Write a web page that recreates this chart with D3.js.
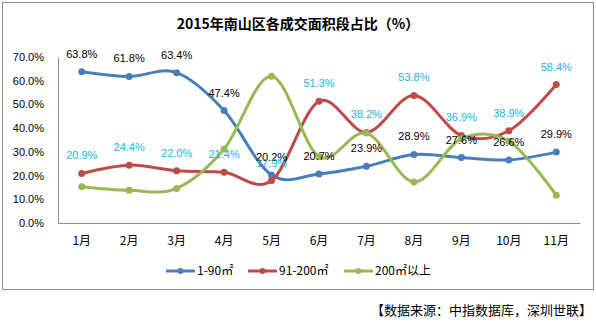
<!DOCTYPE html>
<html>
<head>
<meta charset="utf-8">
<script src="https://cdn.jsdelivr.net/npm/d3@7"></script>
<style>
  body { margin: 0; background: #fff; }
  svg { display: block; }
  .tick-lbl { font-family: "Liberation Sans", Arial, sans-serif; font-size: 11px; fill: #000; }
  .cat-lbl { font-family: "Noto Sans CJK SC", sans-serif; font-size: 12px; fill: #000; }
  .val-lbl { font-family: "Liberation Sans", Arial, sans-serif; font-size: 11px; }
</style>
</head>
<body>
<div id="chart"></div>
<script>
//Datos
const months = ['1月','2月','3月','4月','5月','6月','7月','8月','9月','10月','11月'];
const small = [63.8, 61.8, 63.4, 47.4, 20.2, 20.7, 23.9, 28.9, 27.6, 26.6, 29.9];
const medium = [20.9, 24.4, 22.0, 21.4, 17.9, 51.3, 38.2, 53.8, 36.9, 38.9, 58.4];
const large = [15.3, 13.8, 14.6, 31.2, 61.9, 28.0, 37.9, 17.3, 35.5, 34.5, 11.7];
const yTicks = [0, 10, 20, 30, 40, 50, 60, 70];
const seriesNames = ['1-90㎡', '91-200㎡', '200㎡以上'];

//Colores
const COLOR_BLUE = '#4A7EBB', COLOR_RED = '#BE4B48', COLOR_GREEN = '#98B954', COLOR_LABEL = '#1EB1EC';

const W = 596, H = 324;
let margin = {top: 57, right: 16, bottom: 101, left: 58},
    width = W - margin.left - margin.right,
    height = H - margin.top - margin.bottom;

let svg = d3.select('#chart').append('svg')
    .attr('width', W)
    .attr('height', H);

//Marco
svg.append('rect')
    .attr('x', 2.5).attr('y', 2.5)
    .attr('width', 591).attr('height', 287)
    .attr('fill', 'none').attr('stroke', '#8c8c8c');

svg.append('text')
    .attr('x', 298).attr('y', 29)
    .attr('text-anchor', 'middle')
    .style('font-family', '"Noto Sans CJK SC", sans-serif')
    .style('font-size', '14px').style('font-weight', 'bold')
    .text('2015年南山区各成交面积段占比（%）');

let g = svg.append('g').attr('transform', 'translate(' + margin.left + ',' + margin.top + ')');

let x = d3.scaleBand().domain(months).range([0, width]);
let y = d3.scaleLinear().domain([0, 70]).range([height, 0]);
const cx = function(m) { return x(m) + x.bandwidth() / 2; };

//Ejes
let yAxis = g.append('g').call(d3.axisLeft(y).tickValues(yTicks).tickSize(0).tickPadding(14).tickFormat(function(d) { return d.toFixed(1) + '%'; }));
yAxis.select('.domain').attr('stroke', '#8c8c8c');
yAxis.selectAll('text').attr('class', 'tick-lbl');

let xAxis = g.append('g').attr('transform', 'translate(0,' + height + ')')
    .call(d3.axisBottom(x).tickSize(0).tickPadding(13));
xAxis.select('.domain').attr('stroke', '#8c8c8c');
xAxis.selectAll('text').attr('class', 'cat-lbl');

//Series
const series = [
    {values: small, color: COLOR_BLUE, label: '#000'},
    {values: medium, color: COLOR_RED, label: COLOR_LABEL},
    {values: large, color: COLOR_GREEN, label: null}
];

let line = d3.line()
    .x(function(d, i) { return cx(months[i]); })
    .y(function(d) { return y(d); })
    .curve(d3.curveCardinal.tension(0));

series.forEach(function(s) {
    g.append('path')
        .attr('d', line(s.values))
        .attr('fill', 'none')
        .attr('stroke', s.color)
        .attr('stroke-width', 3);
    g.selectAll(null).data(s.values).enter().append('circle')
        .attr('cx', function(d, i) { return cx(months[i]); })
        .attr('cy', function(d) { return y(d); })
        .attr('r', 3.5)
        .attr('fill', s.color);
});

series.forEach(function(s) {
    if (!s.label) return;
    g.selectAll(null).data(s.values).enter().append('text')
        .attr('class', 'val-lbl')
        .attr('x', function(d, i) { return cx(months[i]); })
        .attr('y', function(d) { return y(d) - 14; })
        .attr('text-anchor', 'middle')
        .attr('fill', s.label)
        .text(function(d) { return d.toFixed(1) + '%'; });
});

//Leyenda
const legendX = [166, 248, 344];
series.forEach(function(s, i) {
    let lg = svg.append('g').attr('transform', 'translate(' + legendX[i] + ',271)');
    lg.append('line').attr('x1', 0).attr('x2', 29).attr('stroke', s.color).attr('stroke-width', 3);
    lg.append('circle').attr('cx', 14.5).attr('r', 3).attr('fill', s.color);
    lg.append('text').attr('x', 31).attr('y', 4)
        .style('font-family', '"Noto Sans CJK SC", sans-serif').style('font-size', '12px')
        .text(seriesNames[i]);
});

svg.append('text')
    .attr('x', 592).attr('y', 315)
    .attr('text-anchor', 'end')
    .style('font-family', '"Noto Sans CJK SC", sans-serif')
    .style('font-size', '13px')
    .text('【数据来源：中指数据库，深圳世联】');
</script>
</body>
</html>
